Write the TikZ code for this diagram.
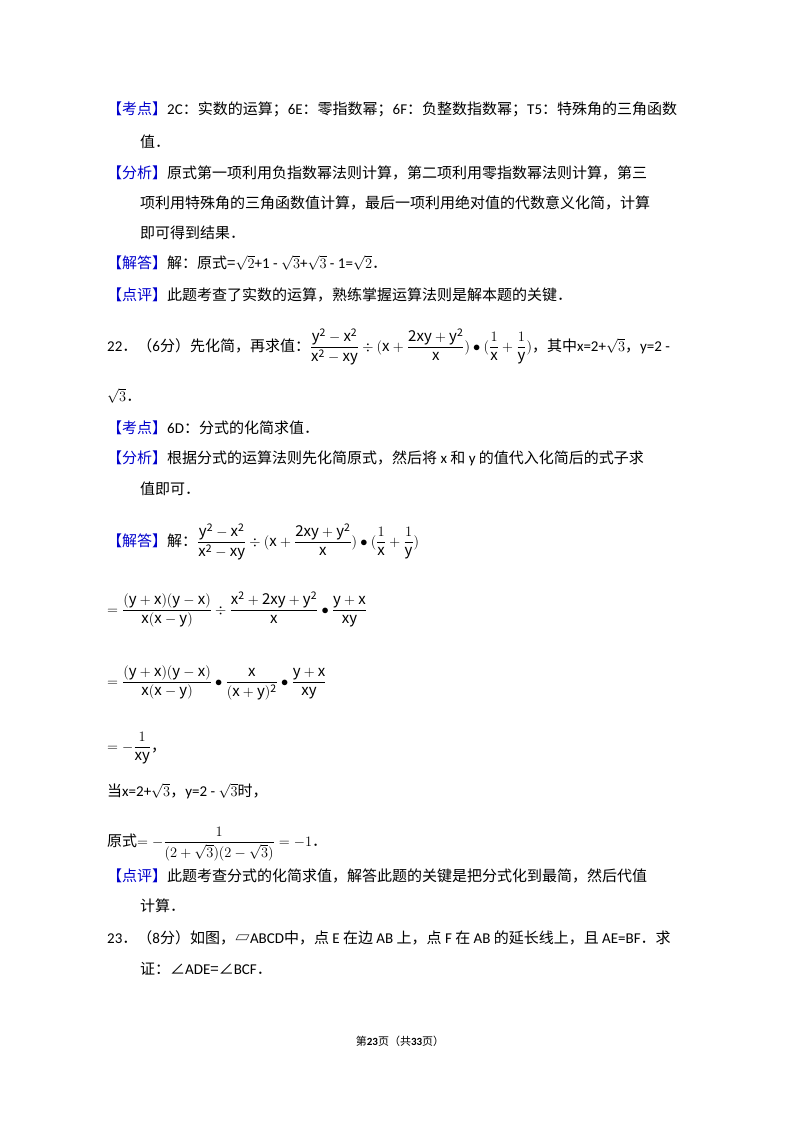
\documentclass[tikz,border=0pt]{standalone}
\usepackage{amsmath}
\usepackage{fontspec}
\setmainfont{Noto Sans CJK SC}
\newfontfamily\lat{Carlito}
\newcommand{\bk}[1]{\textcolor{blue!80!black}{【#1】}}
\tikzset{tl/.style={anchor=base west,inner sep=0pt,font=\fontsize{15}{18}\selectfont}}
\begin{document}
\begin{tikzpicture}[x=1pt,y=-1pt]
\useasboundingbox (0,0) rectangle (800,1132);
\node[tl] (l1) at (107,114) {\bk{考点}{\lat 2C}：实数的运算；{\lat 6E}：零指数幂；{\lat 6F}：负整数指数幂；{\lat T5}：特殊角的三角函数};
\node[tl] (l2) at (140,147) {值．};
\node[tl] (l3) at (107,178) {\bk{分析}原式第一项利用负指数幂法则计算，第二项利用零指数幂法则计算，第三};
\node[tl] (l4) at (140,208) {项利用特殊角的三角函数值计算，最后一项利用绝对值的代数意义化简，计算};
\node[tl] (l5) at (140,238) {即可得到结果．};
\node[tl] (l6) at (107,268) {\bk{解答}解：原式={\lat$\sqrt{2}$+1 - $\sqrt{3}$+$\sqrt{3}$ - 1=$\sqrt{2}$}．};
\node[tl] (l7) at (107,300) {\bk{点评}此题考查了实数的运算，熟练掌握运算法则是解本题的关键．};
\node[tl] (l8) at (107,351) {{\lat 22}．（{\lat 6}分）先化简，再求值：$\dfrac{\mathrm{y^2-x^2}}{\mathrm{x^2-xy}}\div(\mathrm{x}+\dfrac{\mathrm{2xy+y^2}}{\mathrm{x}})\bullet(\dfrac{1}{\mathrm{x}}+\dfrac{1}{\mathrm{y}})$，其中{\lat x=2+$\sqrt{3}$}，{\lat y=2 -}};
\node[tl] (l9) at (107,401) {{\lat$\sqrt{3}$}．};
\node[tl] (l10) at (107,433) {\bk{考点}{\lat 6D}：分式的化简求值．};
\node[tl] (l11) at (107,463) {\bk{分析}根据分式的运算法则先化简原式，然后将 {\lat x} 和 {\lat y} 的值代入化简后的式子求};
\node[tl] (l12) at (140,494) {值即可．};
\node[tl] (l13) at (107,546) {\bk{解答}解：$\dfrac{\mathrm{y^2-x^2}}{\mathrm{x^2-xy}}\div(\mathrm{x}+\dfrac{\mathrm{2xy+y^2}}{\mathrm{x}})\bullet(\dfrac{1}{\mathrm{x}}+\dfrac{1}{\mathrm{y}})$};
\node[tl] (l14) at (107,614) {$=\dfrac{\mathrm{(y+x)(y-x)}}{\mathrm{x(x-y)}}\div\dfrac{\mathrm{x^2+2xy+y^2}}{\mathrm{x}}\bullet\dfrac{\mathrm{y+x}}{\mathrm{xy}}$};
\node[tl] (l15) at (107,686) {$=\dfrac{\mathrm{(y+x)(y-x)}}{\mathrm{x(x-y)}}\bullet\dfrac{\mathrm{x}}{\mathrm{(x+y)^2}}\bullet\dfrac{\mathrm{y+x}}{\mathrm{xy}}$};
\node[tl] (l16) at (107,751) {$=-\dfrac{1}{\mathrm{xy}}$，};
\node[tl] (l17) at (107,796) {当{\lat x=2+$\sqrt{3}$}，{\lat y=2 - $\sqrt{3}$}时，};
\node[tl] (l18) at (107,846) {原式$=-\dfrac{1}{(2+\sqrt{3})(2-\sqrt{3})}=-1$．};
\node[tl] (l19) at (107,881) {\bk{点评}此题考查分式的化简求值，解答此题的关键是把分式化到最简，然后代值};
\node[tl] (l20) at (140,911) {计算．};
\node[tl] (l21) at (107,943) {{\lat 23}．（{\lat 8}分）如图，▱{\lat ABCD}中，点 {\lat E} 在边 {\lat AB} 上，点 {\lat F} 在 {\lat AB} 的延长线上，且 {\lat AE=BF}．求};
\node[tl] (l22) at (140,974) {证：∠{\lat ADE}=∠{\lat BCF}．};
\node[anchor=base,inner sep=0pt,font=\fontsize{11}{13}\selectfont] (ft) at (400,1045) {第\textbf{\lat 23}页（共\textbf{\lat 33}页）};
\end{tikzpicture}
\end{document}
